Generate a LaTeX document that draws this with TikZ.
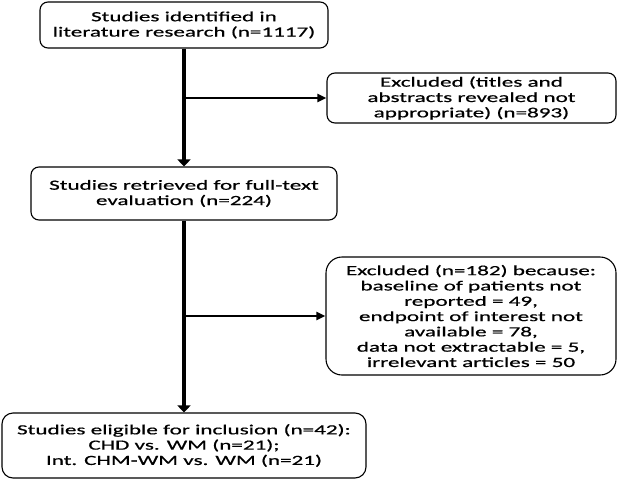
\documentclass[tikz,border=0pt]{standalone}
\usepackage{fontspec}
\setmainfont[FakeStretch=1.65,FakeBold=0.6]{Carlito}
\usepackage{tikz}
\usetikzlibrary{positioning}
\usetikzlibrary{arrows.meta}
\tikzstyle{stage}=[rectangle,draw,rounded corners=8pt,align=center,inner sep=0pt,line width=1.1pt,font=\fontsize{14}{15.3}\selectfont]
\tikzstyle{flow} = [draw,line width=3.5pt,-{Triangle[width=13pt,length=7pt]}]
\tikzstyle{branch} = [draw,line width=2.2pt,-{Triangle[width=8pt,length=9pt]}]

\begin{document}
\begin{tikzpicture}[x=1pt,y=-1pt]

  \useasboundingbox (0,0) rectangle (618,479);

  \node[stage,minimum width=288pt,minimum height=46pt] (ident) at (184,25)
        {Studies identified in\\literature research (n=1117)};
  \node[stage,minimum width=289pt,minimum height=50pt] (excl1) at (471.5,98)
        {Excluded (titles and\\abstracts revealed not\\appropriate) (n=893)};
  \node[stage,minimum width=306pt,minimum height=53pt] (retr) at (184,193.5)
        {Studies retrieved for full-text\\evaluation (n=224)};
  \node[stage,rounded corners=16pt,minimum width=290pt,minimum height=118pt] (excl2) at (471,316)
        {Excluded (n=182) because:\\baseline of patients not\\reported = 49,\\endpoint of interest not\\available = 78,\\data not extractable = 5,\\irrelevant articles = 50};
  \node[stage,rounded corners=11pt,minimum width=364pt,minimum height=65pt] (elig) at (184,445.5)
        {Studies eligible for inclusion (n=42):\\CHD vs. WM (n=21);\\Int. CHM-WM vs. WM (n=21)};

  \coordinate (split1) at (184,98);
  \coordinate (split2) at (184,316);

  \foreach \source/\dest in {ident/retr, retr/elig}
         \path[flow] (\source) -- (\dest);
  \foreach \source/\dest in {split1/excl1, split2/excl2}
         \path[branch] (\source) -- (\dest);

\end{tikzpicture}
\end{document}
